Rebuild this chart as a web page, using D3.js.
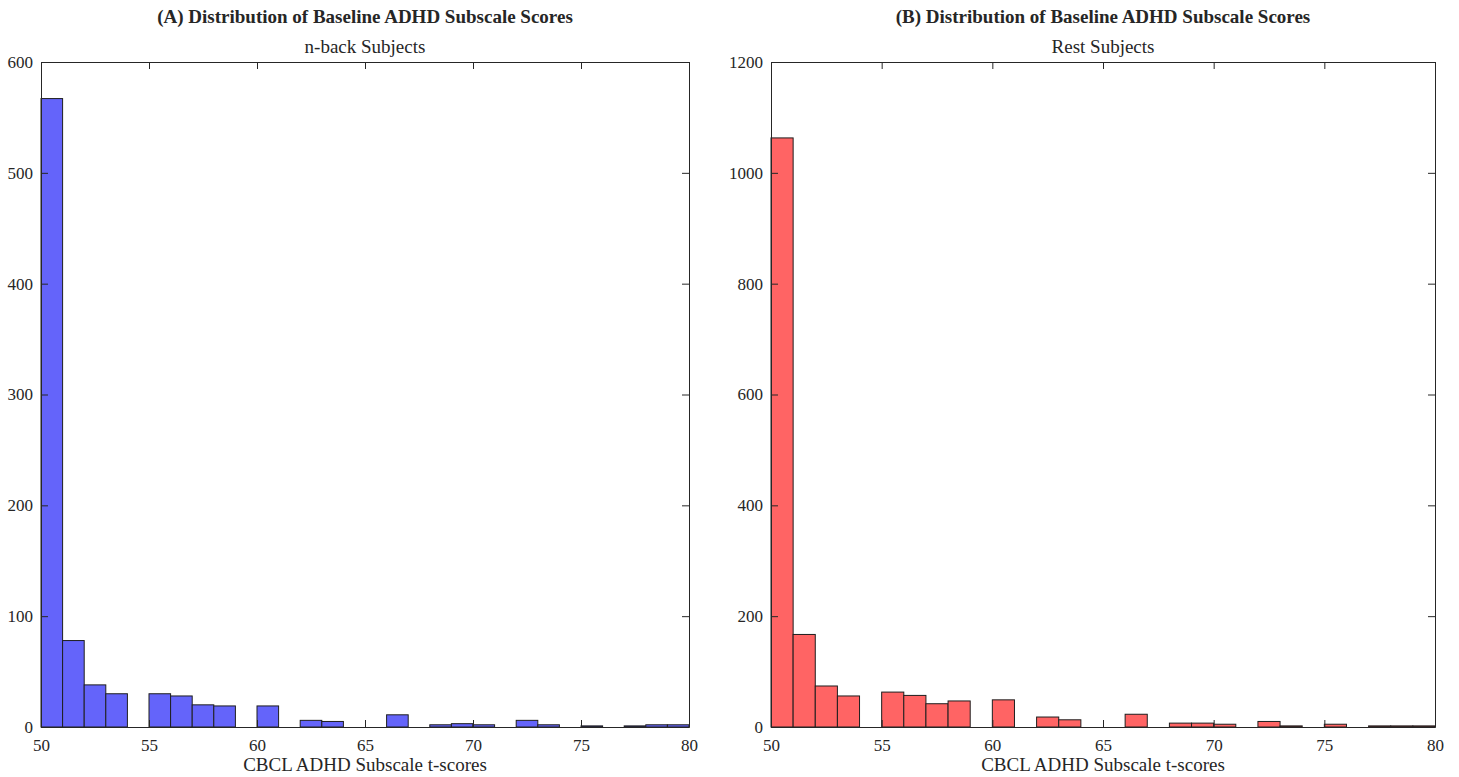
<!DOCTYPE html>
<html>
<head>
<meta charset="utf-8">
<script src="https://cdn.jsdelivr.net/npm/d3@7"></script>
<style>
  html, body { margin: 0; padding: 0; background: #fff; }
  svg { display: block; }
  text { font-family: "Liberation Serif", "Times New Roman", serif; fill: #262626; }
</style>
</head>
<body>
<svg id="chart" width="1459" height="777"></svg>
<script>
// Histogram bin edges: one-point bins from 50 to 80
const binStarts = d3.range(50, 80);

// Counts per bin, n-back subjects
const nbackCounts = [567, 78, 38, 30, 0, 30, 28, 20, 19, 0,
                     19, 0, 6, 5, 0, 0, 11, 0, 2, 3,
                     2, 0, 6, 2, 0, 1, 0, 1, 2, 2];

// Counts per bin, rest subjects
const restCounts = [1063, 167, 74, 56, 0, 63, 57, 42, 47, 0,
                    49, 0, 18, 13, 0, 0, 23, 0, 7, 7,
                    5, 0, 10, 2, 0, 5, 0, 2, 2, 2];

const xTicks = [50, 55, 60, 65, 70, 75, 80];
const nbackYTicks = [0, 100, 200, 300, 400, 500, 600];
const restYTicks = [0, 200, 400, 600, 800, 1000, 1200];

const panels = [
  { title: "(A) Distribution of Baseline ADHD Subscale Scores", subtitle: "n-back Subjects",
    counts: nbackCounts, yTicks: nbackYTicks, yMax: 600, fill: "#6464fa",
    left: 41, right: 689 },
  { title: "(B) Distribution of Baseline ADHD Subscale Scores", subtitle: "Rest Subjects",
    counts: restCounts, yTicks: restYTicks, yMax: 1200, fill: "#ff6464",
    left: 771, right: 1435 }
];

const plotTop = 62, plotBottom = 727, tickLen = 7;
const svg = d3.select("#chart");

panels.forEach(p => {
  const x = d3.scaleLinear().domain([50, 80]).range([p.left, p.right]);
  const y = d3.scaleLinear().domain([0, p.yMax]).range([plotBottom, plotTop]);
  const g = svg.append("g");

  // bars
  g.selectAll("rect.bar")
    .data(binStarts.map((b, i) => ({ x0: b, x1: b + 1, n: p.counts[i] })))
    .join("rect")
    .attr("class", "bar")
    .attr("x", d => x(d.x0))
    .attr("width", d => x(d.x1) - x(d.x0))
    .attr("y", d => y(d.n))
    .attr("height", d => y(0) - y(d.n))
    .attr("fill", p.fill)
    .attr("stroke", "#1e1e1e")
    .attr("stroke-width", 1);

  // axes with inward ticks on all four sides
  const axB = g.append("g").attr("transform", `translate(0,${plotBottom})`)
    .call(d3.axisBottom(x).tickValues(xTicks).tickSizeInner(-tickLen).tickSizeOuter(0).tickPadding(12));
  const axT = g.append("g").attr("transform", `translate(0,${plotTop})`)
    .call(d3.axisTop(x).tickValues(xTicks).tickSizeInner(-tickLen).tickSizeOuter(0).tickFormat(""));
  const axL = g.append("g").attr("transform", `translate(${p.left},0)`)
    .call(d3.axisLeft(y).tickValues(p.yTicks).tickFormat(d3.format("d"))
      .tickSizeInner(-tickLen).tickSizeOuter(0).tickPadding(8));
  const axR = g.append("g").attr("transform", `translate(${p.right},0)`)
    .call(d3.axisRight(y).tickValues(p.yTicks).tickSizeInner(-tickLen).tickSizeOuter(0).tickFormat(""));

  [axB, axT, axL, axR].forEach(a => {
    a.selectAll(".domain").attr("stroke", "#262626").attr("stroke-width", 1);
    a.selectAll(".tick line").attr("stroke", "#262626").attr("stroke-width", 1);
    a.selectAll(".tick text").style("font-family", "'Liberation Serif', serif")
      .style("font-size", "17px").attr("fill", "#262626");
  });

  const cx = (p.left + p.right) / 2;
  g.append("text").attr("x", cx).attr("y", 23).attr("text-anchor", "middle")
    .style("font-size", "19px").style("font-weight", "bold").text(p.title);
  g.append("text").attr("x", cx).attr("y", 53).attr("text-anchor", "middle")
    .style("font-size", "19px").text(p.subtitle);
  g.append("text").attr("x", cx).attr("y", 771).attr("text-anchor", "middle")
    .style("font-size", "19px").text("CBCL ADHD Subscale t-scores");
});
</script>
</body>
</html>
